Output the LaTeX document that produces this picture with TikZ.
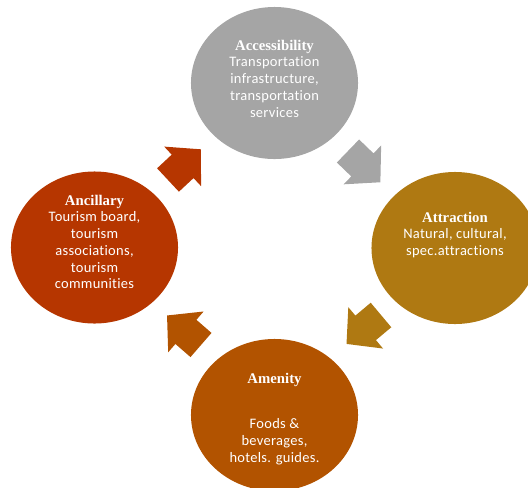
\documentclass[tikz,border=0pt]{standalone}
\usepackage{fontspec}
\setmainfont{Carlito}[Ligatures=CommonOff, LetterSpace=2]
\newfontfamily\headfont{Liberation Serif}
\usetikzlibrary{shapes.geometric}

\definecolor{accessgray}{HTML}{A5A5A5}
\definecolor{attractgold}{HTML}{AF7912}
\definecolor{amenitybrown}{HTML}{B25300}
\definecolor{ancillaryred}{HTML}{B63600}

\newcommand{\heading}[1]{{\headfont\bfseries\fontsize{10.5}{11.9}\selectfont #1}}

\begin{document}
\begin{tikzpicture}[x=0.025cm, y=-0.025cm,
    stage/.style={ellipse, minimum width=4.175cm, minimum height=3.8cm, inner sep=0pt},
    stagetext/.style={text=white, align=center, font=\fontsize{10.3}{11.9}\selectfont},
    cyclearrow/.pic={
      \fill (0,-16) -- (20,-16) -- (20,-27) -- (45,0) -- (20,27) -- (20,16) -- (0,16) -- cycle;
    }]
    \useasboundingbox (0,0) rectangle (528,488);

    % the four stages
    \node[stage, fill=accessgray] (access) at (274.5,83) {};
    \node[stage, fill=attractgold] (attract) at (455,248) {};
    \node[stage, fill=amenitybrown] (amenity) at (274.5,415) {};
    \node[stage, fill=ancillaryred] (ancillary) at (94.5,247.5) {};

    \node[stagetext] (accesstext) at (274.5,78.5)
      {\heading{Accessibility}\\ Transportation\\ infrastructure,\\ transportation\\ services};
    \node[stagetext] (attracttext) at (455,235)
      {\heading{Attraction}\\ Natural, cultural,\\ spec.attractions};
    \node[stagetext] (amenitytext) at (274.5,419)
      {\heading{Amenity}\\[20pt] Foods \&\\ beverages,\\ hotels. guides.};
    \node[stagetext] (ancillarytext) at (94.5,242)
      {\heading{Ancillary}\\ Tourism board,\\ tourism\\ associations,\\ tourism\\ communities};

    % block arrows between the stages
    \pic[fill=ancillaryred, rotate=43] (toaccess) at (168,180) {cyclearrow};
    \pic[fill=accessgray, rotate=-44] (toattract) at (348,151) {cyclearrow};
    \pic[fill=attractgold, rotate=-140] (toamenity) at (381,315) {cyclearrow};
    \pic[fill=amenitybrown, rotate=139] (toancillary) at (201,345) {cyclearrow};
\end{tikzpicture}
\end{document}
